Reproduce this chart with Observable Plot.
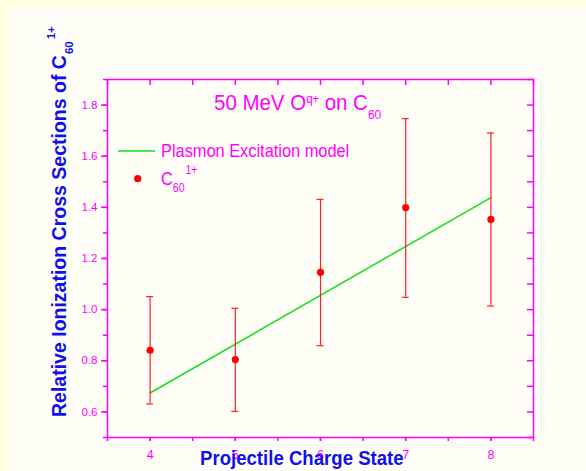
<!DOCTYPE html>
<html>
<head>
<meta charset="utf-8">
<script src="https://cdn.jsdelivr.net/npm/d3@7"></script>
<script src="https://cdn.jsdelivr.net/npm/@observablehq/plot@0.6"></script>
<style>
  html, body { margin: 0; padding: 0; background: #ffffe2; }
  #wrap { position: relative; width: 586px; height: 471px; overflow: hidden; font-family: "Liberation Sans", Arial, sans-serif; }
  #panel { position: absolute; left: 9px; top: 6px; right: 0; bottom: 0; background: #fffff8; }
  #chart { position: absolute; left: 0; top: 0; }
  .ov { position: absolute; white-space: nowrap; line-height: 1; }
  #title { left: 214px; top: 92.1px; font-size: 22px; color: #ff00ff; transform: scaleX(0.93); transform-origin: 0 0; }
  #leg1 { left: 161px; top: 142px; font-size: 18.6px; color: #ff00ff; transform: scaleX(0.88); transform-origin: 0 0; }
  #leg2 { left: 161px; top: 170px; font-size: 18.6px; color: #ff00ff; transform: scaleX(0.88); transform-origin: 0 0; }
  #xlab { left: 200px; top: 448px; font-size: 20px; font-weight: bold; color: #1010ee; transform: scaleX(0.93); transform-origin: 0 0; }
  #ylab { left: 49.5px; top: 417px; font-size: 19.5px; font-weight: bold; color: #1010ee; transform: rotate(-90deg); transform-origin: 0 0; }
  #legsvg { position: absolute; left: 0; top: 0; }
</style>
</head>
<body>
<div id="wrap">
  <div id="panel"></div>
  <div id="chart"></div>
  <svg id="legsvg" width="586" height="471"></svg>
  <div class="ov" id="title">50 MeV O<span style="font-size:13px;position:relative;top:-7px;letter-spacing:-0.5px">q+</span> on C<span style="font-size:13px;position:relative;top:9px">60</span></div>
  <div class="ov" id="leg1">Plasmon Excitation model</div>
  <div class="ov" id="leg2">C<span style="font-size:12px;position:relative;top:7px">60</span><span style="font-size:12px;position:relative;top:-10.7px;margin-left:1px">1+</span></div>
  <div class="ov" id="xlab">Projectile Charge State</div>
  <div class="ov" id="ylab">Relative Ionization Cross Sections of C<span style="font-size:11.5px;position:relative;top:7px;margin-left:1px">60</span><span style="font-size:11.5px;position:relative;top:-11px;margin-left:2px">1+</span></div>
</div>
<script>
// ---- data ----
const chargeStates = [4, 5, 6, 7, 8];
const crossSection = [0.841, 0.805, 1.146, 1.399, 1.353];
const errLow       = [0.631, 0.602, 0.859, 1.048, 1.014];
const errHigh      = [1.051, 1.005, 1.431, 1.747, 1.691];
const modelX = [4, 8];
const modelY = [0.674, 1.438];

// ---- ticks ----
const xMajorTicks = [4, 5, 6, 7, 8];
const xMinorTicks = [3.5, 4, 4.5, 5, 5.5, 6, 6.5, 7, 7.5, 8, 8.5];
const yMajorTicks = [0.6, 0.8, 1.0, 1.2, 1.4, 1.6, 1.8];
const yMinorTicks = [0.5, 0.6, 0.7, 0.8, 0.9, 1.0, 1.1, 1.2, 1.3, 1.4, 1.5, 1.6, 1.7, 1.8, 1.9];

const points = chargeStates.map((q, i) => ({q, v: crossSection[i], lo: errLow[i], hi: errHigh[i]}));
const model = modelX.map((q, i) => ({q, v: modelY[i]}));

const MAG = "#ff00ff";
const plotW = 586 - 107 - 53;
const plotH = 471 - 79 - 34;

const chart = Plot.plot({
  width: 586,
  height: 471,
  marginLeft: 107,
  marginRight: 53,
  marginTop: 79,
  marginBottom: 34,
  style: {background: "transparent", fontFamily: "'Liberation Sans', Arial, sans-serif"},
  x: {domain: [3.5, 8.5]},
  y: {domain: [0.5, 1.9]},
  marks: [
    // bottom axis
    Plot.axisX(xMinorTicks, {anchor: "bottom", tickSize: 4, tickFormat: () => "", stroke: MAG, strokeWidth: 1.5, label: null}),
    Plot.axisX(xMajorTicks, {anchor: "bottom", tickSize: 4, tickPadding: 9, fontSize: 12.5, color: MAG, strokeWidth: 1.5, label: null}),
    // left axis
    Plot.axisY(yMinorTicks, {anchor: "left", tickSize: 4, tickFormat: () => "", stroke: MAG, strokeWidth: 1.5, label: null}),
    Plot.axisY(yMajorTicks, {anchor: "left", tickSize: 6, tickPadding: 4, fontSize: 11.5, color: MAG, strokeWidth: 1.5, tickFormat: d3.format(".1f"), label: null}),
    // inward mirrored ticks (top and right)
    Plot.tickX(xMinorTicks, {x: d => d, insetBottom: plotH - 6, stroke: MAG, strokeWidth: 1.5}),
    Plot.tickY(yMinorTicks, {y: d => d, insetLeft: plotW - 6, stroke: MAG, strokeWidth: 1.5}),
    Plot.frame({stroke: MAG, strokeWidth: 1.5}),
    // model line
    Plot.line(model, {x: "q", y: "v", stroke: "#11e011", strokeWidth: 1.5}),
    // error bars
    Plot.ruleX(points, {x: "q", y1: "lo", y2: "hi", stroke: "#ff2020", strokeWidth: 1.2}),
    Plot.ruleY(points, {y: "hi", x1: "q", x2: "q", insetLeft: -3.5, insetRight: -3.5, stroke: "#ff2020", strokeWidth: 1.2}),
    Plot.ruleY(points, {y: "lo", x1: "q", x2: "q", insetLeft: -3.5, insetRight: -3.5, stroke: "#ff2020", strokeWidth: 1.2}),
    // points
    Plot.dot(points, {x: "q", y: "v", r: 3.6, fill: "#ff0000", stroke: "none"})
  ]
});
document.getElementById("chart").appendChild(chart);

// legend glyphs
const ns = "http://www.w3.org/2000/svg";
const leg = document.getElementById("legsvg");
const ln = document.createElementNS(ns, "line");
ln.setAttribute("x1", 118); ln.setAttribute("x2", 155); ln.setAttribute("y1", 151); ln.setAttribute("y2", 151);
ln.setAttribute("stroke", "#11e011"); ln.setAttribute("stroke-width", 1.5);
leg.appendChild(ln);
const c = document.createElementNS(ns, "circle");
c.setAttribute("cx", 137.7); c.setAttribute("cy", 178.7); c.setAttribute("r", 3.6); c.setAttribute("fill", "#ff0000");
leg.appendChild(c);
</script>
</body>
</html>
